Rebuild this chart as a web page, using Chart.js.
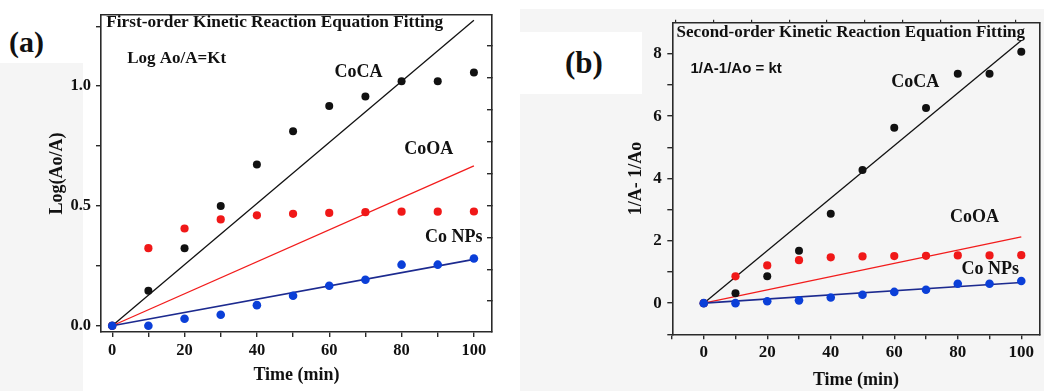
<!DOCTYPE html>
<html><head><meta charset="utf-8">
<script src="https://cdn.jsdelivr.net/npm/chart.js@4.4.1/dist/chart.umd.min.js"></script>
<style>
html,body{margin:0;padding:0;}
body{width:1044px;height:391px;background:#f5f5f5;position:relative;overflow:hidden;font-family:'Liberation Serif','Times New Roman',serif;}
.box{position:absolute;background:#fff;}
.plab{position:absolute;font-weight:bold;line-height:1;color:#111;}
.wrap{position:absolute;top:0;}
canvas{display:block;}
</style></head><body>
<div class="box" style="left:0;top:0;width:1044px;height:9px"></div>
<div class="box" style="left:0;top:0;width:83px;height:63px"></div>
<div class="box" style="left:83px;top:0;width:437px;height:391px"></div>
<div class="box" style="left:520px;top:32px;width:122px;height:62px"></div>
<div class="plab" style="left:9px;top:27px;font-size:30px">(a)</div>
<div class="plab" style="left:565px;top:47px;font-size:31px">(b)</div>
<div class="wrap" style="left:0;width:520px;height:391px"><canvas id="cA" width="520" height="391"></canvas></div>
<div class="wrap" style="left:520px;width:524px;height:391px"><canvas id="cB" width="524" height="391"></canvas></div>
<script>
// ---------- data ----------
const times = [0, 10, 20, 30, 40, 50, 60, 70, 80, 90, 100];
const fitTimes = [0, 100];

// (a) First-order: Log(Ao/A)
const firstCoCA  = [0, 0.146, 0.324, 0.500, 0.673, 0.812, 0.917, 0.957, 1.020, 1.020, 1.057];
const firstCoOA  = [0, 0.324, 0.406, 0.444, 0.461, 0.467, 0.471, 0.474, 0.476, 0.476, 0.477];
const firstCoNPs = [0, 0.000, 0.029, 0.046, 0.086, 0.125, 0.167, 0.192, 0.255, 0.255, 0.281];
const firstFitCoCA  = [0, 1.275];
const firstFitCoOA  = [0, 0.667];
const firstFitCoNPs = [0, 0.277];

// (b) Second-order: 1/A - 1/Ao
const secondCoCA  = [0, 0.32, 0.86, 1.68, 2.87, 4.27, 5.63, 6.26, 7.36, 7.36, 8.07];
const secondCoOA  = [0, 0.86, 1.21, 1.38, 1.47, 1.50, 1.51, 1.52, 1.53, 1.53, 1.54];
const secondCoNPs = [0, 0.00, 0.06, 0.09, 0.18, 0.27, 0.36, 0.43, 0.62, 0.62, 0.71];
const secondFitCoCA  = [0, 8.43];
const secondFitCoOA  = [0, 2.13];
const secondFitCoNPs = [0, 0.66];

// ticks
const xTicksA = [0, 10, 20, 30, 40, 50, 60, 70, 80, 90, 100];
const xTicksB = [-10, 0, 10, 20, 30, 40, 50, 60, 70, 80, 90, 100];
const xLabelTicks = [0, 20, 40, 60, 80, 100];
const yTicksA = [0, 0.25, 0.5, 0.75, 1.0, 1.25];
const yLabelTicksA = [0, 0.5, 1.0];
const yTicksB = [-1, 0, 1, 2, 3, 4, 5, 6, 7, 8];
const yLabelTicksB = [0, 2, 4, 6, 8];
const rightTicksA = [0, 1, 2, 3, 4, 5, 6, 7, 8];
const topTicksB = [0, 1, 2, 3, 4, 5, 6, 7, 8, 9];

// text
const seriesNames = ['CoCA', 'CoOA', 'Co NPs'];
const titleA = 'First-order Kinetic Reaction Equation Fitting';
const titleB = 'Second-order Kinetic Reaction Equation Fitting';
const eqA = 'Log Ao/A=Kt';
const eqB = '1/A-1/Ao = kt';

// ---------- styling ----------
const SERIF = "'Liberation Serif','Times New Roman',serif";
const SANS = "'Liberation Sans',Arial,sans-serif";
const AX = '#2a2a2a';
const TXT = '#111';
const C_BLACK = '#111111', C_RED = '#f01818', C_BLUE = '#0b3fd8', C_NAVY = '#1c2a8f', C_REDLINE = '#f21c1c';

const pts = (xs, ys) => xs.map((x, i) => ({x, y: ys[i]}));

function datasets(ca, oa, np, fca, foa, fnp) {
  return [
    {data: pts(times, np), pointRadius: 4.3, pointBackgroundColor: C_BLUE, pointBorderWidth: 0, showLine: false},
    {data: pts(times, oa), pointRadius: 4.1, pointBackgroundColor: C_RED, pointBorderWidth: 0, showLine: false},
    {data: pts(times, ca), pointRadius: 4.0, pointBackgroundColor: C_BLACK, pointBorderWidth: 0, showLine: false},
    {data: pts(fitTimes, fnp), showLine: true, pointRadius: 0, borderColor: C_NAVY, borderWidth: 1.6},
    {data: pts(fitTimes, foa), showLine: true, pointRadius: 0, borderColor: C_REDLINE, borderWidth: 1.3},
    {data: pts(fitTimes, fca), showLine: true, pointRadius: 0, borderColor: C_BLACK, borderWidth: 1.3},
  ];
}

const textPlugin = {
  id: 'texts',
  afterDatasetsDraw(chart, args, opts) {
    const ctx = chart.ctx, xs = chart.scales.x, ys = chart.scales.y;
    ctx.save();
    for (const a of opts.items) {
      ctx.font = `bold ${a.size}px ${a.family || SERIF}`;
      ctx.fillStyle = TXT;
      ctx.textAlign = a.align || 'center';
      ctx.textBaseline = 'middle';
      ctx.fillText(a.text, xs.getPixelForValue(a.x), ys.getPixelForValue(a.y));
    }
    ctx.restore();
  }
};

const setTicks = arr => s => { s.ticks = arr.map(v => ({value: v})); };
const border = {display: true, color: AX, width: 1.6};

function makeChart(id, cfg) {
  const tickFont = {family: SERIF, size: cfg.tickSize, weight: 'bold'};
  const titleFont = {family: SERIF, size: 18, weight: 'bold'};
  return new Chart(document.getElementById(id), {
    type: 'scatter',
    data: {datasets: cfg.datasets},
    options: {
      responsive: false, animation: false,
      layout: {padding: 0},
      plugins: {legend: {display: false}, tooltip: {enabled: false}, texts: {items: cfg.texts}},
      scales: {
        x: {
          type: 'linear', position: 'bottom', min: cfg.xMin, max: cfg.xMax,
          afterBuildTicks: setTicks(cfg.xTicks),
          ticks: {font: tickFont, color: TXT, padding: cfg.xPad, maxRotation: 0, autoSkip: false,
                  callback: v => xLabelTicks.includes(v) ? String(v) : ''},
          grid: {drawOnChartArea: false, tickLength: 5, color: AX, lineWidth: 1.4},
          border,
          title: {display: true, text: 'Time (min)', font: titleFont, color: TXT, padding: {top: 0, bottom: cfg.xTitlePad}},
          afterFit: s => { s.height = cfg.bottomH; }
        },
        y: {
          type: 'linear', position: 'left', min: cfg.yMin, max: cfg.yMax,
          afterBuildTicks: setTicks(cfg.yTicks),
          ticks: {font: tickFont, color: TXT, padding: cfg.yPad, autoSkip: false,
                  callback: cfg.yLabel},
          grid: {drawOnChartArea: false, tickLength: 5, color: AX, lineWidth: 1.4},
          border,
          title: {display: true, text: cfg.yTitle, font: titleFont, color: TXT, padding: {top: cfg.yTitlePad, bottom: 0}},
          afterFit: s => { s.width = cfg.leftW; }
        },
        y2: {
          type: 'linear', position: 'right', min: cfg.rMin, max: cfg.rMax,
          afterBuildTicks: setTicks(cfg.rTicks),
          ticks: {display: false},
          grid: {display: cfg.rTicks.length > 0, drawOnChartArea: false, tickLength: -5, color: AX, lineWidth: 1.4},
          border,
          afterFit: s => { s.width = cfg.rightW; }
        },
        x2: {
          type: 'linear', position: 'top', min: cfg.tMin, max: cfg.tMax,
          afterBuildTicks: setTicks(cfg.tTicks),
          ticks: {display: false},
          grid: {display: cfg.tTicks.length > 0, drawOnChartArea: false, tickLength: 3, color: AX, lineWidth: 1.2},
          border,
          afterFit: s => { s.height = cfg.topH; }
        }
      }
    },
    plugins: [textPlugin]
  });
}

makeChart('cA', {
  datasets: datasets(firstCoCA, firstCoOA, firstCoNPs, firstFitCoCA, firstFitCoOA, firstFitCoNPs),
  tickSize: 16.5,
  xMin: -3.1, xMax: 105, xTicks: xTicksA, xPad: 4, xTitlePad: 5, bottomH: 59,
  yMin: -0.026, yMax: 1.297, yTicks: yTicksA, yPad: 5, leftW: 101,
  yLabel: v => yLabelTicksA.includes(v) ? v.toFixed(1) : '',
  yTitle: 'Log(Ao/A)', yTitlePad: 47,
  rMin: -0.97, rMax: 8.977, rTicks: rightTicksA, rightW: 28,
  tMin: 0, tMax: 1, tTicks: [], topH: 15,
  texts: [
    {text: titleA, x: -1.66, y: 1.267, align: 'left', size: 17.3},
    {text: eqA, x: 4.15, y: 1.117, align: 'left', size: 17},
    {text: seriesNames[0], x: 68.1, y: 1.058, size: 18},
    {text: seriesNames[1], x: 87.5, y: 0.737, size: 18},
    {text: seriesNames[2], x: 94.4, y: 0.370, size: 18},
  ]
});

makeChart('cB', {
  datasets: datasets(secondCoCA, secondCoOA, secondCoNPs, secondFitCoCA, secondFitCoOA, secondFitCoNPs),
  tickSize: 17,
  xMin: -9.9, xMax: 105.8, xTicks: xTicksB, xPad: 3, xTitlePad: 0, bottomH: 56.7,
  yMin: -1.0, yMax: 9.0, yTicks: yTicksB, yPad: 5.5, leftW: 152.3,
  yLabel: v => yLabelTicksB.includes(v) ? String(v) : '',
  yTitle: '1/A- 1/Ao', yTitlePad: 106,
  rMin: 0, rMax: 1, rTicks: [], rightW: 2,
  tMin: -0.097, tMax: 9.63, tTicks: topTicksB, topH: 22.7,
  texts: [
    {text: titleB, x: -8.55, y: 8.67, align: 'left', size: 17},
    {text: eqB, x: -4.17, y: 7.52, align: 'left', size: 15, family: SANS},
    {text: seriesNames[0], x: 66.6, y: 7.07, size: 18},
    {text: seriesNames[1], x: 85.3, y: 2.76, size: 18},
    {text: seriesNames[2], x: 90.2, y: 1.09, size: 18},
  ]
});
</script>
</body></html>
